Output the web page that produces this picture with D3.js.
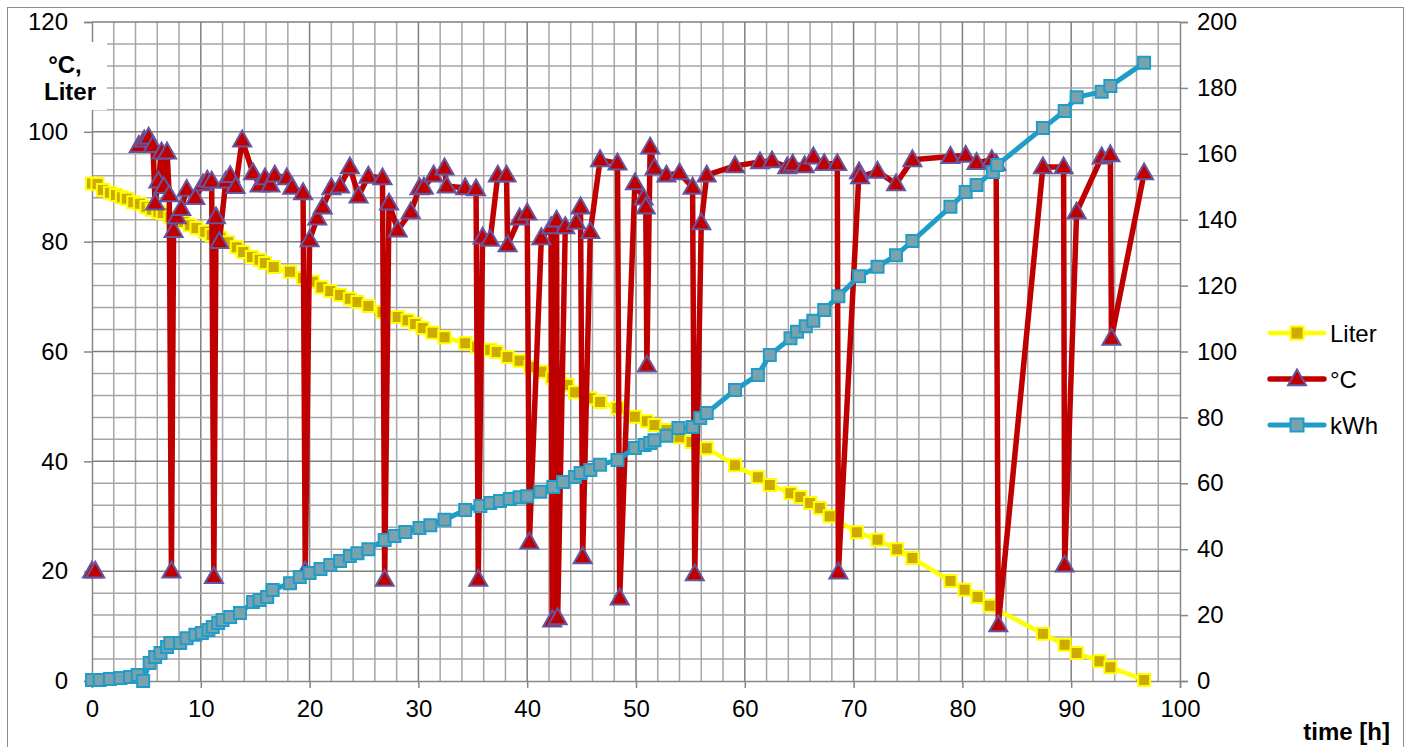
<!DOCTYPE html>
<html>
<head>
<meta charset="utf-8">
<script src="https://cdn.jsdelivr.net/npm/d3@7"></script>
<style>
  body { margin: 0; background: #fff; }
  text { font-family: Arial, "Liberation Sans", sans-serif; }
</style>
</head>
<body>
<svg class="svg-main" width="1411" height="747"></svg>
<script>
// ---- data ----
const literTime = [0, 0.5, 1, 1.65, 2.2, 2.75, 3.2, 3.8, 4.4, 5, 5.5, 6.1, 6.5, 7.2, 7.8, 8.4, 9, 9.6, 10.4, 11, 11.8, 12.5, 13.3, 13.9, 14.7, 15.4, 15.9, 16.7, 18.2, 19.4, 20.3, 21.1, 21.9, 22.8, 23.7, 24.4, 25.4, 26.7, 28.1, 29, 29.7, 30.4, 31.3, 32.4, 34.3, 35.4, 36.6, 37.2, 38.2, 39.3, 40.3, 41.3, 42.3, 43, 43.7, 44.4, 45.8, 46.7, 48.3, 49.9, 51, 51.7, 52.8, 54, 55.1, 56.5, 59.1, 61.2, 62.3, 64.2, 65.1, 66, 66.9, 67.8, 70.3, 72.2, 74, 75.4, 78.9, 80.2, 81.4, 82.5, 87.4, 89.4, 90.5, 92.6, 93.6, 96.7];
const literVals = [90.6, 90.5, 89.4, 88.9, 88.5, 88.1, 87.8, 87.2, 86.9, 86.3, 85.8, 85.4, 85.2, 84.5, 84.1, 83.6, 83, 82.5, 81.8, 81.2, 80.7, 79.9, 79, 78.1, 77.2, 76.7, 76.1, 75.4, 74.5, 73.4, 72.7, 71.7, 71, 70.3, 69.6, 69, 68.3, 67.2, 66.3, 65.7, 65, 64.3, 63.4, 62.6, 61.5, 60.8, 60.3, 59.9, 59, 58.3, 57.2, 56.3, 55.2, 54.4, 53.9, 52.6, 51.5, 50.8, 49.7, 48.1, 47.3, 46.6, 45.7, 44.4, 43.5, 42.4, 39.3, 37.1, 35.7, 34.2, 33.5, 32.4, 31.5, 30, 27.1, 25.7, 24, 22.4, 18.2, 16.6, 15.3, 13.7, 8.6, 6.6, 5.1, 3.6, 2.5, 0.2];

// null = gap in the record
const tempTime = [0, 0.3, 2, 4.3, 4.8, 5.2, 5.6, 5.8, 6.1, 6.4, 6.6, 6.9, 7.1, 7.3, 7.5, 7.8, 8.2, 8.7, 9.5, 10.2, 10.6, 11, 11.2, 11.4, 11.7, 12.3, 12.7, 13.2, 13.8, 14.8, 15.4, 15.9, 16.4, 16.8, 17.9, 18.4, 19.4, 19.6, 20, 20.7, 21.2, 22, 22.8, 23.7, 24.5, 25.4, 26.7, 26.9, 27.3, 28.1, 29.3, 30.1, 30.5, 31.4, 32.4, 32.6, 34.3, 35.3, 35.5, 35.9, 36.6, 37.3, 38.1, 38.2, 39.3, 40, 40.2, 41.3, 42.2, 42.3, 42.7, 42.8, 43.5, 44.5, 44.9, 45.1, 45.8, 46.7, 48.3, 48.5, 49.9, 50.7, 50.9, 51, 51.3, 51.7, 52.8, 54, 55.2, 55.4, 56, 56.5, 59.1, 61.4, 62.5, 63.9, 64.4, 65.5, 66.3, 67.3, 68.5, 68.6, 70.5, 70.6, 72.2, 73.9, 75.4, 78.9, 80.3, 81.3, 82.7, 83.1, 83.3, 87.4, 89.3, 89.4, 90.5, 92.8, 93.6, 93.7, 96.7];
const tempVals = [20, 20, null, 97.5, 98.5, 99, 97.5, 87, 91, 96.3, 90, 96.3, 88.5, 20, 82, 84.5, 86, 89.5, 88, 90.5, 91.2, 91, 19, 84.5, 80, 91, 92, 90, 98.5, 92.5, 90.3, 91.6, 90.3, 92.1, 91.6, 89.9, 88.9, 20, 80.3, 84.3, 86.3, 89.8, 90.1, 93.6, 88.3, 91.9, 91.6, 18.5, 87, 82.1, 85.4, 89.8, 89.9, 92.1, 93.4, 90.1, 89.8, 89.6, 18.5, 80.8, 80.4, 92.1, 92.1, 79.4, 84.3, 85.2, 25.3, 80.7, 82.7, 11.1, 83.9, 11.5, 82.7, 83.5, 86.3, 22.6, 81.8, 94.9, 94.3, 15.1, 90.7, 87.9, 86.3, 57.5, 97.2, 93.4, 92.1, 92.5, 89.9, 19.5, 83.4, 92.1, 93.8, 94.5, 94.7, 93.6, 94.1, 93.8, 95.4, 94.2, 94.2, 19.8, 92.7, 91.8, 92.8, 90.5, 94.9, 95.5, 95.7, 94.4, 94.9, 94.2, 10.2, 93.6, 93.6, 21.1, 85.4, 95.4, 95.8, 62.4, 92.5];

const kwhTime = [0, 0.7, 1.65, 2.6, 3.5, 4.2, 4.7, 5.3, 5.8, 6.3, 6.9, 7.2, 8.1, 8.7, 9.5, 10.1, 10.7, 11.1, 11.6, 12, 12.7, 13.6, 14.8, 15.4, 16.1, 16.6, 18.2, 19.1, 20, 21, 21.9, 22.8, 23.7, 24.4, 25.4, 26.9, 27.8, 28.8, 30.1, 31.1, 32.4, 34.3, 35.7, 36.6, 37.5, 38.4, 39.3, 40, 41.2, 42.4, 43.3, 44.4, 44.9, 45.8, 46.7, 48.3, 49.9, 50.8, 51.3, 51.7, 52.8, 53.9, 55.2, 55.9, 56.5, 59.1, 61.2, 62.3, 64.2, 64.8, 65.6, 66.3, 67.3, 68.6, 70.5, 72.2, 73.9, 75.4, 78.9, 80.3, 81.3, 82.8, 83.2, 87.4, 89.4, 90.5, 92.8, 93.6, 96.7];
const kwhVals = [0.3, 0.3, 0.6, 0.9, 1.2, 1.8, 0, 5.5, 7.3, 8.5, 10.3, 11.5, 11.5, 13, 14, 14.6, 15.5, 16.4, 17.6, 18.5, 19.4, 20.6, 24, 24.6, 25.5, 27.6, 29.7, 31.6, 32.8, 34, 35.2, 36.4, 37.9, 38.8, 40, 42.8, 44, 45.2, 46.4, 47.3, 48.9, 51.9, 53.1, 54, 54.6, 55.2, 55.8, 56.1, 57.4, 58.9, 60.4, 61.9, 63.1, 64, 65.6, 67.1, 70.7, 71.6, 72.2, 73.1, 74.4, 76.8, 77.1, 79.8, 81.3, 88.3, 92.9, 98.9, 104, 106, 107.7, 109.3, 112.6, 116.8, 122.8, 125.7, 129.2, 133.5, 143.9, 148.4, 150.5, 154.5, 156.6, 167.8, 173, 177.2, 178.8, 180.6, 187.6];

const leftTicks = [0, 20, 40, 60, 80, 100, 120];
const rightTicks = [0, 20, 40, 60, 80, 100, 120, 140, 160, 180, 200];
const xTicks = [0, 10, 20, 30, 40, 50, 60, 70, 80, 90, 100];

// ---- layout ----
const svg = d3.select(".svg-main");
const x = d3.scaleLinear().domain([0, 100]).range([92, 1180]);
const yL = d3.scaleLinear().domain([0, 120]).range([681, 22]);
const yR = d3.scaleLinear().domain([0, 200]).range([681, 22]);

svg.append("rect")
  .attr("x", 7.5).attr("y", 7.5)
  .attr("width", 1396).attr("height", 760)
  .attr("fill", "#fff").attr("stroke", "#8c8c8c").attr("stroke-width", 1);

// grid
const grid = svg.append("g");
grid.selectAll("line.v")
  .data(d3.range(2, 100, 2))
  .enter().append("line")
    .attr("x1", d => x(d)).attr("x2", d => x(d))
    .attr("y1", yL(120)).attr("y2", yL(0))
    .attr("stroke", d => d % 10 === 0 ? "#7f7f7f" : "#a6a6a6")
    .attr("stroke-width", 1.5);
grid.selectAll("line.h")
  .data(d3.range(4, 121, 4))
  .enter().append("line")
    .attr("x1", x(0)).attr("x2", x(100))
    .attr("y1", d => yL(d)).attr("y2", d => yL(d))
    .attr("stroke", d => d % 20 === 0 ? "#7f7f7f" : "#a6a6a6")
    .attr("stroke-width", 1.5);

// axes
const axisColor = "#868686";
const gL = svg.append("g").attr("transform", `translate(${x(0)},0)`)
  .call(d3.axisLeft(yL).tickValues(leftTicks).tickSize(8).tickPadding(16));
const gR = svg.append("g").attr("transform", `translate(${x(100)},0)`)
  .call(d3.axisRight(yR).tickValues(rightTicks).tickSize(8).tickPadding(9));
const gB = svg.append("g").attr("transform", `translate(0,${yL(0)})`)
  .call(d3.axisBottom(x).tickValues(xTicks).tickSize(7).tickPadding(22));
[gL, gR, gB].forEach(g => {
  g.select(".domain").attr("stroke", axisColor).attr("stroke-width", 1.5);
  g.selectAll(".tick line").attr("stroke", axisColor).attr("stroke-width", 1.5);
  g.selectAll(".tick text").attr("font-size", 24).attr("fill", "#000")
    .style("font-family", "Arial, 'Liberation Sans', sans-serif");
});
gB.selectAll(".tick text").attr("dy", "0.3em");

// axis titles
svg.append("rect").attr("x", 30).attr("y", 42).attr("width", 77).attr("height", 68).attr("fill", "#fff");
svg.append("text").attr("x", 65).attr("y", 73).attr("text-anchor", "middle")
  .attr("font-size", 24).attr("font-weight", "bold").text("°C,");
svg.append("text").attr("x", 70).attr("y", 100).attr("text-anchor", "middle")
  .attr("font-size", 24).attr("font-weight", "bold").text("Liter");
svg.append("text").attr("x", 1390).attr("y", 740).attr("text-anchor", "end")
  .attr("font-size", 24).attr("font-weight", "bold").text("time [h]");

// ---- series ----
const series = [
  { name: "Liter", t: literTime, v: literVals, y: yL, line: "#ffff00", width: 4.5,
    shape: "square", fill: "#ccaa00", stroke: "#ffff00", size: 12 },
  { name: "°C", t: tempTime, v: tempVals, y: yL, line: "#c00000", width: 5.5,
    shape: "triangle", fill: "#c00000", stroke: "#6656a0", size: 18 },
  { name: "kWh", t: kwhTime, v: kwhVals, y: yR, line: "#1f9dc8", width: 5,
    shape: "square", fill: "#77a2ae", stroke: "#1f9dc8", size: 12 }
];

function markerPath(shape, s) {
  if (shape === "square") return `M${-s/2},${-s/2}h${s}v${s}h${-s}Z`;
  const h = s * 0.88;
  return `M0,${-h*0.6}L${s/2},${h*0.4}L${-s/2},${h*0.4}Z`;
}

series.forEach(s => {
  const pts = s.t.map((t, i) => ({ t: t, v: s.v[i] }));
  const g = svg.append("g");
  g.append("path")
    .datum(pts)
    .attr("fill", "none")
    .attr("stroke", s.line)
    .attr("stroke-width", s.width)
    .attr("stroke-linejoin", "round")
    .attr("d", d3.line().defined(d => d.v !== null).x(d => x(d.t)).y(d => s.y(d.v)));
  g.selectAll("path.m")
    .data(pts.filter(d => d.v !== null))
    .enter().append("path")
      .attr("transform", d => `translate(${x(d.t)},${s.y(d.v)})`)
      .attr("d", markerPath(s.shape, s.size))
      .attr("fill", s.fill)
      .attr("stroke", s.stroke)
      .attr("stroke-width", 2);
});

// legend
const legend = svg.append("g");
series.forEach((s, i) => {
  const ly = 333 + i * 46;
  legend.append("line").attr("x1", 1270).attr("x2", 1324).attr("y1", ly).attr("y2", ly)
    .attr("stroke", s.line).attr("stroke-width", s.width).attr("stroke-linecap", "round");
  legend.append("path").attr("transform", `translate(1297,${ly})`)
    .attr("d", markerPath(s.shape, s.shape === "square" ? 13 : 18))
    .attr("fill", s.fill).attr("stroke", s.stroke).attr("stroke-width", 2);
  legend.append("text").attr("x", 1330).attr("y", ly).attr("dy", "0.36em")
    .attr("font-size", 24).text(s.name);
});
</script>
</body>
</html>
